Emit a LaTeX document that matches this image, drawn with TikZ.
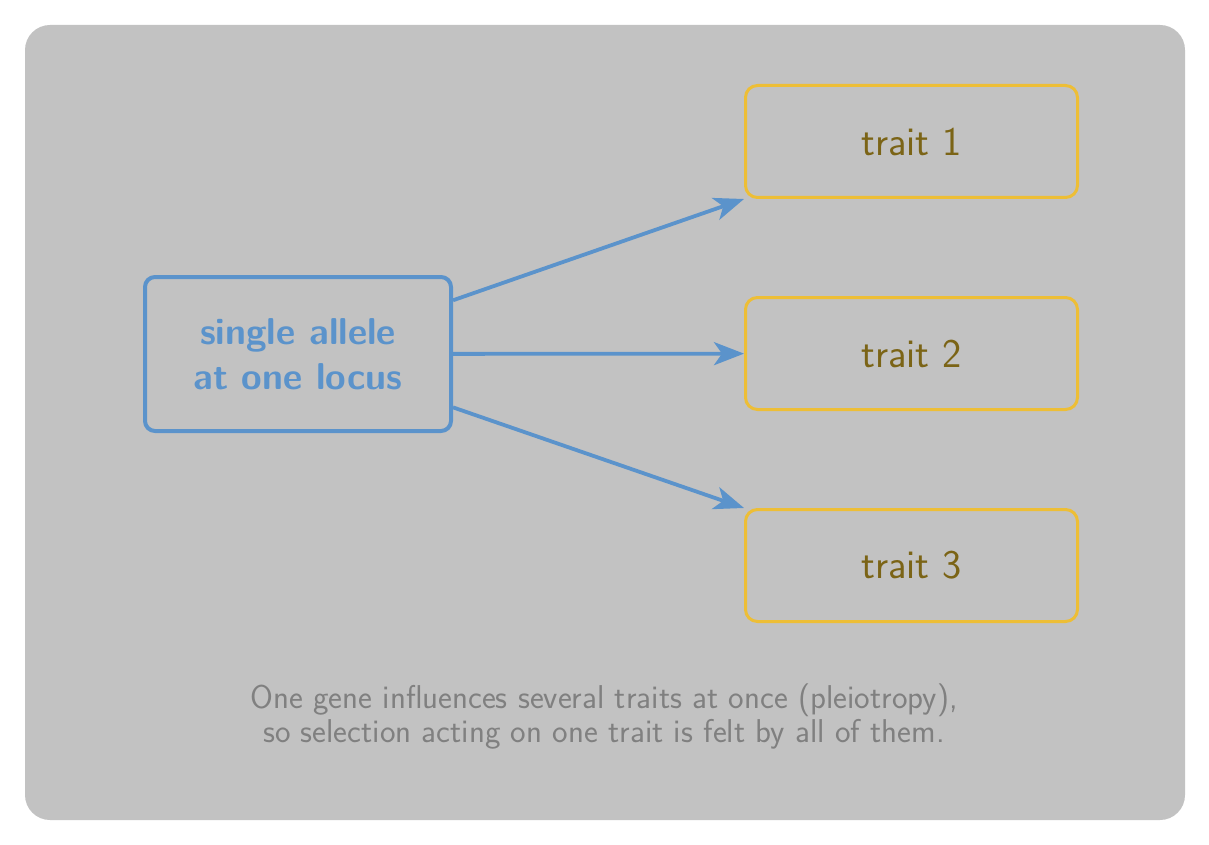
\documentclass[tikz,border=0pt]{standalone}
\usetikzlibrary{arrows.meta}
\definecolor{bgg}{HTML}{C2C2C2}
\definecolor{blu}{HTML}{5B93CB}
\definecolor{ylw}{HTML}{EDBE36}
\definecolor{olv}{HTML}{7B6416}
\definecolor{cap}{HTML}{808080}
\begin{document}
\begin{tikzpicture}[x=0.5pt,y=-0.5pt,
  srcbox/.style={draw=blu,line width=2pt,rounded corners=5pt,minimum width=153pt,minimum height=77pt,inner sep=0pt,align=center,text=blu,font=\sffamily\bfseries\fontsize{18.7}{22.5}\selectfont},
  traitbox/.style={draw=ylw,line width=1.5pt,rounded corners=6pt,minimum width=166pt,minimum height=56pt,inner sep=0pt,text=olv,font=\sffamily\fontsize{20.4}{24}\selectfont},
  link/.style={draw=blu,line width=1.9pt,-{Stealth[length=15pt,width=11.5pt,inset=4pt]}},
  note/.style={align=center,text=cap,font=\sffamily\fontsize{16.5}{17}\selectfont}]
\useasboundingbox (0,0) rectangle (1209,845);
\fill[bgg,rounded corners=12.5pt] (25,25) rectangle (1185,820);
\node[srcbox] (src) at (298,354) {single allele\\at one locus};
\node[traitbox] (t1) at (911.5,141.5) {trait 1};
\node[traitbox] (t2) at (911.5,353.5) {trait 2};
\node[traitbox] (t3) at (911.5,565.5) {trait 3};
\draw[link] (src) -- (t1.south west);
\draw[link] (src) -- (t2);
\draw[link] (src) -- (t3.north west);
\node[note] (cap) at (604,716) {One gene influences several traits at once (pleiotropy),\\so selection acting on one trait is felt by all of them.};
\end{tikzpicture}
\end{document}
